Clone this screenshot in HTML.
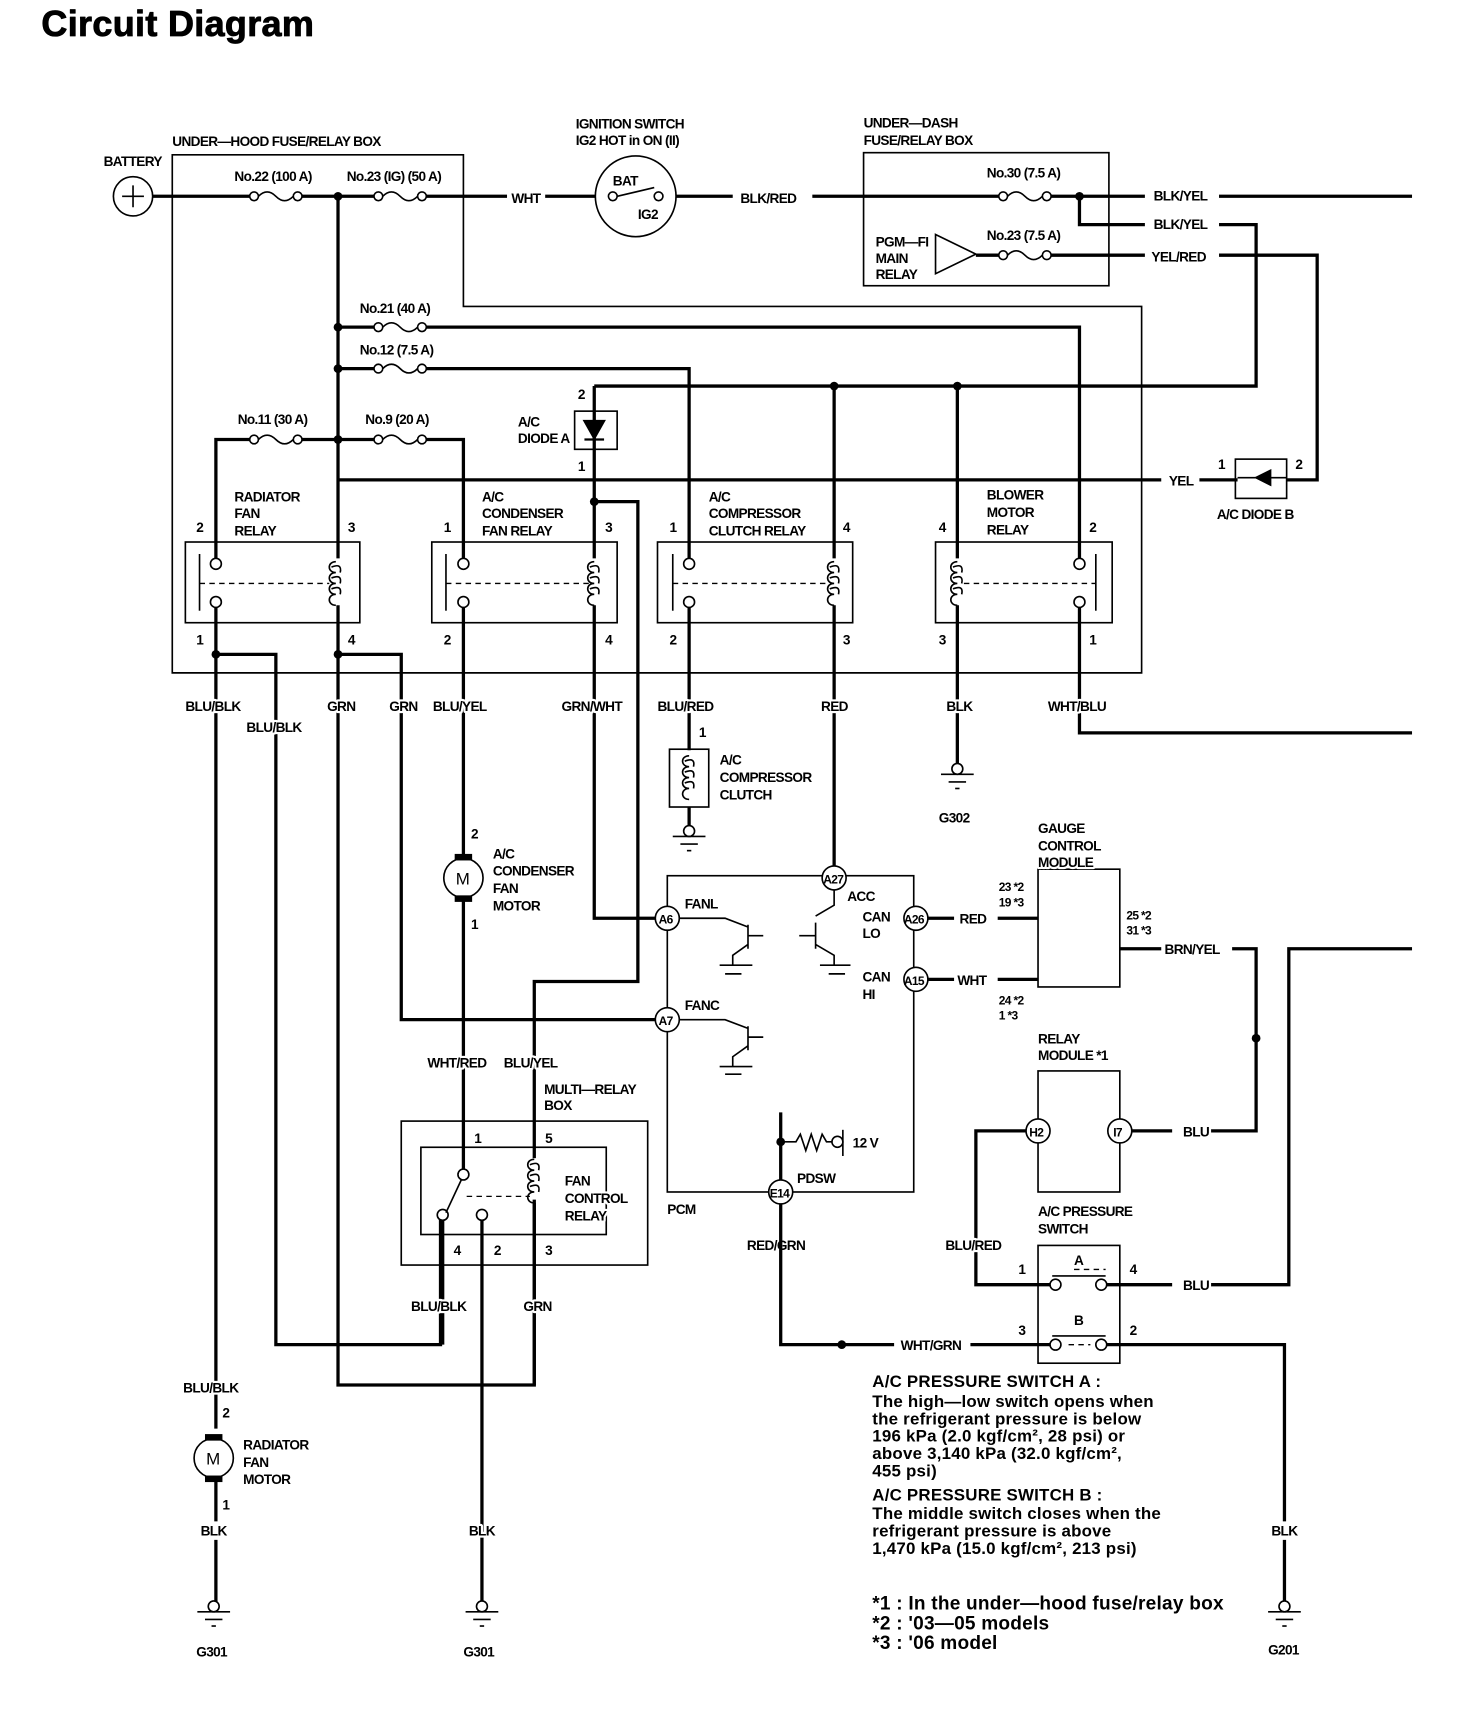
<!DOCTYPE html>
<html><head><meta charset="utf-8"><style>
html,body{margin:0;padding:0;background:#fff}
svg{display:block}
.w{stroke:#000;stroke-width:3;fill:none}
.n{stroke:#000;stroke-width:1.5;fill:none}
.d{stroke:#000;stroke-width:1.2;fill:none;stroke-dasharray:5 4}
text{font-family:"Liberation Sans Narrow","Liberation Sans",sans-serif;font-weight:bold;font-size:12.5px;letter-spacing:-0.6px;fill:#000;paint-order:stroke;stroke:#fff;stroke-width:4px;stroke-linejoin:round}
.b{font-family:"Liberation Sans",sans-serif;font-size:15.5px;letter-spacing:0.2px;stroke:none}
.c{fill:#fff;stroke:#000;stroke-width:1.5}
</style></head><body>
<svg width="1472" height="1710" viewBox="0 0 1350 1568" preserveAspectRatio="none" xmlns="http://www.w3.org/2000/svg">
<defs>
<g id="fuse"><circle cx="0" cy="0" r="4" class="c"/><path d="M4 0 Q12 -8 20 0 T36 0" class="n" stroke-width="2"/><circle cx="40" cy="0" r="4" class="c"/></g>
<g id="gnd"><circle cx="0" cy="-5" r="5" class="c"/><line x1="-15" y1="0" x2="15" y2="0" class="n" stroke-width="2"/><line x1="-8" y1="7" x2="8" y2="7" class="n" stroke-width="1"/><line x1="-2" y1="13" x2="2" y2="13" class="n" stroke-width="1"/></g>
<g id="coil"><path d="M0 0 C-8 0 -8 10 0 10 C-8 10 -8 20 0 20 C-8 20 -8 30 0 30 C-8 30 -8 40 0 40" class="n"/><path d="M-4 5 q10 -4 8 5 M-4 15 q10 -4 8 5 M-4 25 q10 -4 8 5" class="n" stroke-width="1"/></g>
</defs>
<text x="38" y="33" style="font-family:'Liberation Sans',sans-serif;font-size:33px;letter-spacing:0.3px;stroke:#000;stroke-width:0.8px">Circuit Diagram</text>

<!-- boxes -->
<path d="M158 142 H425 V281 H1047 V617 H158 Z" class="n"/>
<rect x="792" y="140" width="225" height="122" class="n"/>
<text x="158" y="134">UNDER—HOOD FUSE/RELAY BOX</text>
<text x="95" y="152">BATTERY</text>
<circle cx="122" cy="180" r="18" class="n" stroke-width="2"/>
<path d="M112 180 H132 M122 170 V190" class="n" stroke-width="1"/>
<text x="215" y="166">No.22 (100 A)</text>
<text x="318" y="166">No.23 (IG) (50 A)</text>
<text x="528" y="118">IGNITION SWITCH</text>
<text x="528" y="133">IG2 HOT in ON (II)</text>
<text x="792" y="117">UNDER—DASH</text>
<text x="792" y="133">FUSE/RELAY BOX</text>
<text x="905" y="163">No.30 (7.5 A)</text>
<text x="905" y="220">No.23 (7.5 A)</text>
<text x="803" y="226">PGM—FI</text><text x="803" y="241">MAIN</text><text x="803" y="256">RELAY</text>
<text x="330" y="287">No.21 (40 A)</text>
<text x="330" y="325">No.12 (7.5 A)</text>
<text x="218" y="389">No.11 (30 A)</text>
<text x="335" y="389">No.9 (20 A)</text>

<!-- top wires -->
<path d="M140 180 H233 M273 180 H347 M387 180 H465 M500 180 H546" class="w"/>
<use href="#fuse" x="233" y="180"/><use href="#fuse" x="347" y="180"/>
<text x="469" y="186">WHT</text>
<circle cx="583" cy="180" r="37" class="n" stroke-width="2"/>
<circle cx="562" cy="180" r="4" class="c"/><circle cx="604" cy="180" r="4" class="c"/>
<path d="M566 180 L600 172" class="n"/>
<text x="562" y="170">BAT</text><text x="585" y="201">IG2</text>
<path d="M620 180 H672 M745 180 H920 M960 180 H1050 M1118 180 H1295" class="w"/>
<text x="679" y="186">BLK/RED</text>
<use href="#fuse" x="920" y="180"/>
<circle cx="990" cy="180" r="4"/>
<path d="M990 180 V206 H1050 M1118 206 H1152 V354 H545" class="w"/>
<text x="1058" y="184">BLK/YEL</text><text x="1058" y="210">BLK/YEL</text>
<path d="M858 215 L895 233 L858 251 Z" class="n" stroke-width="2"/>
<path d="M895 234 H920 M960 234 H1050 M1118 234 H1208 V440 H1180" class="w"/>
<use href="#fuse" x="920" y="234"/>
<text x="1056" y="240">YEL/RED</text>

<path d="M310 180 V512" class="w"/>
<circle cx="310" cy="180" r="4"/><circle cx="310" cy="300" r="4"/><circle cx="310" cy="338" r="4"/><circle cx="310" cy="403" r="4"/>
<path d="M310 300 H347 M387 300 H990 V512" class="w"/><use href="#fuse" x="347" y="300"/>
<path d="M310 338 H347 M387 338 H632 V512" class="w"/><use href="#fuse" x="347" y="338"/>
<path d="M198 512 V403 H233 M273 403 H347 M387 403 H425 V512" class="w"/>
<use href="#fuse" x="233" y="403"/><use href="#fuse" x="347" y="403"/>
<path d="M310 440 H1065 M1100 440 H1135" class="w"/>
<text x="1072" y="445">YEL</text>
<rect x="1133" y="421" width="47" height="36" class="n"/>
<path d="M1166 430 L1150 438 L1166 446 Z M1150 430 V446"/>
<path d="M1135 438 H1180" class="n" stroke-width="2"/>
<text x="1117" y="430">1</text><text x="1188" y="430">2</text>
<text x="1116" y="476">A/C DIODE B</text>

<!-- diode A -->
<path d="M545 354 V512" class="w"/>
<rect x="527" y="377" width="39" height="35" class="n"/>
<path d="M536 386 L554 386 L545 402 Z M536 403 H554" stroke="#000" stroke-width="2"/>
<text x="530" y="366">2</text><text x="530" y="432">1</text>
<text x="475" y="391">A/C</text><text x="475" y="406">DIODE A</text>
<circle cx="765" cy="354" r="4"/><circle cx="878" cy="354" r="4"/><circle cx="545" cy="460" r="4"/>
<path d="M765 354 V512 M878 354 V512" class="w"/>
<path d="M545 460 H585 V900 H490 V1062" class="w"/>

<!-- relays -->
<g>
<rect x="170" y="497" width="160" height="74" class="n"/>
<path d="M183 508 V560" class="n" stroke-width="2"/>
<line x1="183" y1="535" x2="302" y2="535" class="d"/>
<circle cx="198" cy="517" r="5" class="c"/><circle cx="198" cy="552" r="5" class="c"/>
<use href="#coil" x="308" y="515"/>
<text x="215" y="460">RADIATOR</text><text x="215" y="475">FAN</text><text x="215" y="491">RELAY</text>
<text x="180" y="488">2</text><text x="319" y="488">3</text><text x="180" y="591">1</text><text x="319" y="591">4</text>
</g>
<g>
<rect x="396" y="497" width="170" height="74" class="n"/>
<path d="M409 508 V560" class="n" stroke-width="2"/>
<line x1="409" y1="535" x2="540" y2="535" class="d"/>
<circle cx="425" cy="517" r="5" class="c"/><circle cx="425" cy="552" r="5" class="c"/>
<use href="#coil" x="545" y="515"/>
<text x="442" y="460">A/C</text><text x="442" y="475">CONDENSER</text><text x="442" y="491">FAN RELAY</text>
<text x="407" y="488">1</text><text x="555" y="488">3</text><text x="407" y="591">2</text><text x="555" y="591">4</text>
</g>
<g>
<rect x="603" y="497" width="179" height="74" class="n"/>
<path d="M617 508 V560" class="n" stroke-width="2"/>
<line x1="617" y1="535" x2="760" y2="535" class="d"/>
<circle cx="632" cy="517" r="5" class="c"/><circle cx="632" cy="552" r="5" class="c"/>
<use href="#coil" x="765" y="515"/>
<text x="650" y="460">A/C</text><text x="650" y="475">COMPRESSOR</text><text x="650" y="491">CLUTCH RELAY</text>
<text x="614" y="488">1</text><text x="773" y="488">4</text><text x="614" y="591">2</text><text x="773" y="591">3</text>
</g>
<g>
<rect x="858" y="497" width="162" height="74" class="n"/>
<path d="M1005 508 V560" class="n" stroke-width="2"/>
<line x1="884" y1="535" x2="1005" y2="535" class="d"/>
<circle cx="990" cy="517" r="5" class="c"/><circle cx="990" cy="552" r="5" class="c"/>
<use href="#coil" x="878" y="515"/>
<text x="905" y="458">BLOWER</text><text x="905" y="474">MOTOR</text><text x="905" y="490">RELAY</text>
<text x="861" y="488">4</text><text x="999" y="488">2</text><text x="861" y="591">3</text><text x="999" y="591">1</text>
</g>

<!-- lower wires -->
<path d="M198 557 V1310 M198 600 H253 V1233 H404 V1117" class="w"/>
<circle cx="198" cy="600" r="4"/><circle cx="310" cy="600" r="4"/>
<path d="M310 555 V1270 H490 V1100 M310 600 H368 V935 H602" class="w"/>
<path d="M425 557 V787 M425 823 V1073" class="w"/>
<path d="M545 555 V842 H602" class="w"/>
<path d="M632 557 V688 M632 740 V760" class="w"/>
<path d="M765 555 V795" class="w"/>
<path d="M878 555 V700" class="w"/>
<path d="M990 557 V672 H1295" class="w"/>
<text x="170" y="652">BLU/BLK</text><text x="226" y="671">BLU/BLK</text>
<text x="300" y="652">GRN</text><text x="357" y="652">GRN</text><text x="397" y="652">BLU/YEL</text>
<text x="515" y="652">GRN/WHT</text><text x="603" y="652">BLU/RED</text><text x="753" y="652">RED</text>
<text x="868" y="652">BLK</text><text x="961" y="652">WHT/BLU</text>

<!-- clutch -->
<rect x="614" y="687" width="36" height="53" class="n"/>
<use href="#coil" x="632" y="693"/>
<text x="641" y="676">1</text>
<text x="660" y="701">A/C</text><text x="660" y="717">COMPRESSOR</text><text x="660" y="733">CLUTCH</text>
<use href="#gnd" x="632" y="767"/>
<use href="#gnd" x="878" y="710"/>
<text x="861" y="754">G302</text>

<!-- condenser motor -->
<circle cx="425" cy="805" r="18" class="n" stroke-width="2"/>
<rect x="417" y="783" width="16" height="6"/><rect x="417" y="821" width="16" height="6"/>
<text x="418" y="811" class="b" style="font-weight:normal">M</text>
<text x="432" y="769">2</text><text x="432" y="852">1</text>
<text x="452" y="787">A/C</text><text x="452" y="803">CONDENSER</text><text x="452" y="819">FAN</text><text x="452" y="835">MOTOR</text>

<!-- radiator motor -->
<circle cx="196" cy="1337" r="18" class="n" stroke-width="2"/>
<rect x="188" y="1315" width="16" height="6"/><rect x="188" y="1353" width="16" height="6"/>
<text x="189" y="1343" class="b" style="font-weight:normal">M</text>
<text x="168" y="1277">BLU/BLK</text><text x="204" y="1300">2</text><text x="204" y="1384">1</text>
<text x="223" y="1329">RADIATOR</text><text x="223" y="1345">FAN</text><text x="223" y="1361">MOTOR</text>
<path d="M198 1355 V1395 M198 1412 V1470" class="w"/>
<text x="184" y="1408">BLK</text>
<use href="#gnd" x="196" y="1478"/><text x="180" y="1519">G301</text>

<!-- FCR -->
<rect x="368" y="1028" width="226" height="132" class="n"/>
<rect x="386" y="1052" width="170" height="80" class="n"/>
<circle cx="425" cy="1077" r="5" class="c"/><circle cx="406" cy="1114" r="5" class="c"/><circle cx="442" cy="1114" r="5" class="c"/>
<path d="M423 1082 L409 1112" class="n" stroke-width="2"/>
<line x1="428" y1="1097" x2="486" y2="1097" class="d"/>
<use href="#coil" x="490" y="1063"/>
<path d="M406 1119 V1233 M442 1119 V1470 M490 1103 V1270" class="w"/>
<text x="435" y="1048">1</text><text x="500" y="1048">5</text>
<text x="416" y="1151">4</text><text x="453" y="1151">2</text><text x="500" y="1151">3</text>
<text x="518" y="1087">FAN</text><text x="518" y="1103">CONTROL</text><text x="518" y="1119">RELAY</text>
<text x="392" y="979">WHT/RED</text><text x="462" y="979">BLU/YEL</text>
<text x="499" y="1003">MULTI—RELAY</text><text x="499" y="1018">BOX</text>
<text x="377" y="1202">BLU/BLK</text><text x="480" y="1202">GRN</text>
<text x="430" y="1408">BLK</text>
<use href="#gnd" x="442" y="1478"/><text x="425" y="1519">G301</text>

<!-- PCM -->
<rect x="612" y="803" width="226" height="290" class="n"/>
<text x="612" y="1113">PCM</text>
<circle cx="765" cy="805" r="11" class="c"/><text x="755" y="810" style="font-size:11px;stroke:none">A27</text>
<circle cx="612" cy="842" r="11" class="c"/><text x="604" y="847" style="font-size:11px;stroke:none">A6</text>
<circle cx="612" cy="935" r="11" class="c"/><text x="604" y="940" style="font-size:11px;stroke:none">A7</text>
<circle cx="840" cy="842" r="11" class="c"/><text x="829" y="847" style="font-size:11px;stroke:none">A26</text>
<circle cx="840" cy="898" r="11" class="c"/><text x="829" y="903" style="font-size:11px;stroke:none">A15</text>
<circle cx="716" cy="1093" r="11" class="c"/><text x="706" y="1098" style="font-size:11px;stroke:none">E14</text>
<text x="628" y="833">FANL</text><text x="628" y="926">FANC</text>
<text x="777" y="826">ACC</text><text x="791" y="845">CAN</text><text x="791" y="860">LO</text>
<text x="791" y="900">CAN</text><text x="791" y="916">HI</text>
<path d="M623 842 H665 L686 850 M686 848 V870 M686 858 H700 M686 866 L672 876 V885 M660 885 H690" class="n" stroke-width="2"/>
<path d="M765 816 V830 L748 840 M748 846 V870 M748 858 H733 M748 866 L765 876 V885 M752 885 H780" class="n" stroke-width="2"/>
<path d="M623 935 H665 L686 943 M686 941 V963 M686 951 H700 M686 959 L672 969 V978 M660 978 H690" class="n" stroke-width="2"/>
<path d="M665 893 H680 M760 893 H775 M665 985 H680" class="n"/>
<path d="M716 1020 V1082" class="w"/><circle cx="716" cy="1047" r="4"/>
<path d="M716 1047 H730 L734 1040 L739 1055 L744 1040 L749 1055 L754 1040 L758 1047 H764" class="n"/>
<circle cx="768" cy="1047" r="5" class="c"/><path d="M773 1036 V1060" class="n" stroke-width="2"/>
<text x="782" y="1052">12 V</text><text x="731" y="1085">PDSW</text>
<text x="685" y="1146">RED/GRN</text>
<path d="M716 1104 V1233 H820 M890 1233 H963" class="w"/>
<circle cx="772" cy="1233" r="4"/>
<text x="826" y="1238">WHT/GRN</text>

<!-- right modules -->
<path d="M851 842 H875 M915 842 H952 M851 898 H875 M915 898 H952" class="w"/>
<text x="880" y="847">RED</text><text x="878" y="903">WHT</text>
<rect x="952" y="797" width="75" height="108" class="n"/>
<text x="952" y="764">GAUGE</text><text x="952" y="780">CONTROL</text><text x="952" y="795">MODULE</text>
<text x="916" y="817" style="font-size:11px">23 *2</text><text x="916" y="831" style="font-size:11px">19 *3</text>
<text x="916" y="921" style="font-size:11px">24 *2</text><text x="916" y="935" style="font-size:11px">1 *3</text>
<text x="1033" y="843" style="font-size:11px">25 *2</text><text x="1033" y="857" style="font-size:11px">31 *3</text>
<path d="M1027 870 H1065 M1130 870 H1152 V1037 H1110" class="w"/>
<circle cx="1152" cy="952" r="4"/>
<text x="1068" y="875">BRN/YEL</text>
<rect x="952" y="982" width="75" height="111" class="n"/>
<text x="952" y="957">RELAY</text><text x="952" y="972">MODULE *1</text>
<circle cx="952" cy="1037" r="11" class="c"/><text x="944" y="1042" style="font-size:11px;stroke:none">H2</text>
<circle cx="1027" cy="1037" r="11" class="c"/><text x="1021" y="1042" style="font-size:11px;stroke:none">I7</text>
<path d="M1038 1037 H1075" class="w"/><text x="1085" y="1042">BLU</text>
<path d="M941 1037 H895 V1178 H963" class="w"/>
<text x="867" y="1146">BLU/RED</text>
<rect x="952" y="1142" width="75" height="108" class="n"/>
<text x="952" y="1115">A/C PRESSURE</text><text x="952" y="1131">SWITCH</text>
<text x="985" y="1160">A</text><text x="985" y="1215">B</text>
<path d="M965 1170 H1014 M965 1225 H1014" class="n" stroke-width="2"/>
<line x1="985" y1="1164" x2="1014" y2="1164" class="d"/><line x1="980" y1="1233" x2="1000" y2="1233" class="d"/>
<circle cx="968" cy="1178" r="5" class="c"/><circle cx="1010" cy="1178" r="5" class="c"/>
<circle cx="968" cy="1233" r="5" class="c"/><circle cx="1010" cy="1233" r="5" class="c"/>
<text x="934" y="1168">1</text><text x="1036" y="1168">4</text><text x="934" y="1224">3</text><text x="1036" y="1224">2</text>
<path d="M1015 1178 H1075 M1110 1178 H1182 V870 H1295" class="w"/>
<text x="1085" y="1183">BLU</text>
<path d="M1015 1233 H1178 V1395 M1178 1412 V1470" class="w"/>
<text x="1166" y="1408">BLK</text>
<use href="#gnd" x="1178" y="1478"/><text x="1163" y="1517">G201</text>

<!-- notes -->
<text x="800" y="1272" class="b">A/C PRESSURE SWITCH A :</text>
<text x="800" y="1290" class="b">The high—low switch opens when</text>
<text x="800" y="1306" class="b">the refrigerant pressure is below</text>
<text x="800" y="1322" class="b">196 kPa (2.0 kgf/cm², 28 psi) or</text>
<text x="800" y="1338" class="b">above 3,140 kPa (32.0 kgf/cm²,</text>
<text x="800" y="1354" class="b">455 psi)</text>
<text x="800" y="1376" class="b">A/C PRESSURE SWITCH B :</text>
<text x="800" y="1393" class="b">The middle switch closes when the</text>
<text x="800" y="1409" class="b">refrigerant pressure is above</text>
<text x="800" y="1425" class="b">1,470 kPa (15.0 kgf/cm², 213 psi)</text>
<text x="800" y="1476" class="b" style="font-size:17.5px">*1 : In the under—hood fuse/relay box</text>
<text x="800" y="1494" class="b" style="font-size:17.5px">*2 : '03—05 models</text>
<text x="800" y="1512" class="b" style="font-size:17.5px">*3 : '06 model</text>
</svg>
</body></html>
